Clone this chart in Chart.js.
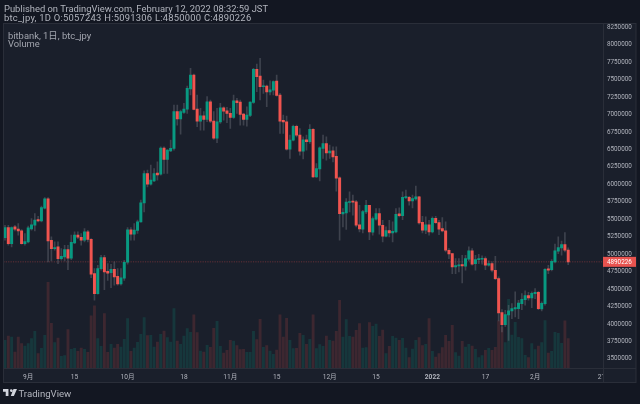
<!DOCTYPE html>
<html>
<head>
<meta charset="utf-8">
<script src="https://cdn.jsdelivr.net/npm/chart.js@4"></script>
<style>
  html, body { margin: 0; padding: 0; background: #131722; }
  #wrap { position: relative; width: 640px; height: 404px; overflow: hidden; font-family: Roboto, "Noto Sans CJK JP", sans-serif; color: #b2b5be; }
  canvas { position: absolute; left: 0; top: 0; }
  .txt { position: absolute; white-space: nowrap; }
  .head { left: 4px; font-size: 9.4px; color: #b2b5be; }
  .leg { left: 8px; font-size: 9.4px; color: #a3a6af; }
  #logo { position: absolute; left: 3px; top: 389px; width: 14px; height: 7px; }
  .brand { left: 18.5px; top: 388px; font-size: 9.6px; color: #b2b5be; }
</style>
</head>
<body>
<div id="wrap">
  <canvas id="chart" width="640" height="404"></canvas>
  <div class="txt head" style="top:3px">Published on TradingView.com, February 12, 2022 08:32:59 JST</div>
  <div class="txt head" style="top:12px;letter-spacing:0.25px">btc_jpy, 1D O:5057243 H:5091306 L:4850000 C:4890226</div>
  <div class="txt leg" style="top:28px">bitbank, 1日, btc_jpy</div>
  <div class="txt leg" style="top:38px">Volume</div>
  <svg id="logo" viewBox="0 0 36 18"><path fill="#d1d4dc" d="M14 18H7V7H0V0h14v18zm14 0h-8L27 0h9l-8 18zM18 4a3.5 3.5 0 1 0 0 -.01z"/></svg>
  <div class="txt brand">TradingView</div>
</div>
<script>
  // open, high, low, close (thousand yen), volume (relative)
  const rows = [
    [5238,5415,5200,5382,83],[5382,5415,5128,5152,96],[5152,5391,5104,5382,93],[5391,5415,5334,5358,48],[5358,5439,5272,5334,93],
    [5334,5353,5143,5152,73],[5152,5296,5128,5181,66],[5176,5401,5162,5377,73],[5363,5511,5343,5420,88],[5415,5582,5334,5487,110],
    [5496,5544,5463,5477,43],[5477,5688,5463,5668,59],[5659,5812,5649,5793,98],[5793,5812,4889,5190,257],[5200,5248,4904,5080,134],
    [5080,5176,5057,5095,76],[5104,5176,4865,4937,90],[4937,5080,4913,4971,35],[4961,5128,4904,5066,37],[5066,5128,4779,4942,115],
    [4942,5272,4923,5171,56],[5162,5319,5152,5272,59],[5272,5319,5224,5243,50],[5243,5296,5128,5200,60],[5200,5367,5176,5319,56],
    [5319,5343,5176,5210,47],[5214,5224,4665,4712,156],[4722,4794,4340,4435,186],[4435,4841,4426,4794,88],[4794,4985,4770,4951,65],
    [4951,4985,4493,4746,163],[4756,4865,4626,4727,47],[4736,4856,4521,4784,71],[4784,4889,4555,4674,60],[4684,4794,4555,4574,71],
    [4574,4794,4555,4660,63],[4655,4913,4626,4885,86],[4885,5382,4856,5348,148],[5348,5382,5200,5286,50],[5286,5439,5200,5344,60],
    [5339,5487,5296,5463,77],[5463,5774,5458,5736,101],[5736,6194,5606,6156,151],[6156,6204,5965,6003,97],[6003,6276,5989,6061,98],
    [6051,6228,6037,6156,63],[6161,6323,6061,6137,78],[6147,6539,6132,6519,101],[6519,6539,6156,6357,111],[6357,6500,6156,6491,91],
    [6481,6634,6467,6515,78],[6515,7136,6491,7041,178],[7041,7136,6849,6936,81],[6936,7065,6720,7041,71],[7031,7160,7017,7079,96],
    [7079,7409,7017,7375,118],[7366,7662,7280,7566,107],[7566,7581,7065,7074,159],[7079,7280,6826,6907,106],[6907,7088,6778,6983,51],
    [6983,7041,6778,6931,48],[6931,7256,6897,7184,68],[7184,7208,6883,6907,62],[6907,7041,6644,6663,119],[6663,7088,6596,6897,140],
    [6893,7160,6873,7098,65],[7098,7112,6921,7050,45],[7055,7103,6883,7017,53],[7017,7088,6802,6959,83],[6959,7280,6945,7198,81],
    [7198,7232,7017,7170,67],[7179,7208,6849,7002,55],[7007,7017,6849,6931,56],[6931,7112,6835,6993,47],[6988,7184,6969,7179,47],
    [7174,7662,7160,7648,110],[7648,7724,7327,7543,85],[7552,7805,7208,7399,146],[7399,7495,7304,7409,62],[7409,7423,7112,7323,67],
    [7323,7485,7280,7356,51],[7351,7485,7280,7471,41],[7480,7566,7265,7275,54],[7280,7304,6730,6907,159],[6917,6993,6730,6893,93],
    [6897,6979,6491,6505,149],[6505,6705,6371,6634,83],[6634,6849,6624,6830,58],[6830,6849,6681,6705,59],[6705,6801,6418,6476,104],
    [6476,6681,6366,6638,98],[6638,6705,6490,6610,71],[6610,6858,6586,6787,86],[6787,6801,6098,6108,159],[6108,6299,6098,6227,58],
    [6222,6538,6050,6524,70],[6514,6705,6371,6586,65],[6586,6681,6347,6452,96],[6452,6562,6371,6476,83],[6481,6538,6323,6395,81],
    [6400,6538,5902,6089,110],[6094,6108,5200,5582,203],[5577,5654,5391,5601,93],[5592,5797,5353,5745,145],[5740,5893,5606,5750,95],
    [5750,5845,5558,5745,93],[5750,5773,5391,5415,113],[5420,5701,5319,5362,133],[5358,5630,5305,5611,60],[5606,5773,5582,5701,61],
    [5701,5701,5209,5319,136],[5315,5534,5271,5510,125],[5501,5654,5486,5582,132],[5582,5654,5286,5415,95],[5415,5486,5176,5257,114],
    [5257,5391,5247,5338,43],[5338,5486,5247,5305,65],[5305,5462,5176,5329,95],[5319,5654,5305,5572,90],[5577,5663,5534,5553,83],
    [5553,5893,5496,5816,89],[5811,5917,5797,5821,60],[5816,5830,5701,5764,31],[5764,5845,5663,5797,57],[5792,5974,5773,5821,83],
    [5821,5830,5429,5448,91],[5458,5544,5305,5343,67],[5343,5534,5295,5419,71],[5419,5486,5271,5319,148],[5319,5534,5305,5515,50],
    [5515,5544,5439,5453,33],[5453,5486,5281,5357,43],[5367,5525,5319,5334,61],[5334,5463,5033,5057,98],[5057,5080,4937,5004,80],
    [5009,5009,4722,4818,128],[4818,4937,4722,4837,46],[4832,4937,4746,4846,36],[4851,4985,4588,4832,80],[4827,4985,4770,4937,63],
    [4928,5104,4904,5047,71],[5047,5080,4841,4856,66],[4865,4985,4770,4923,56],[4923,4999,4865,4937,31],[4928,4976,4856,4942,37],
    [4937,4961,4779,4841,53],[4841,4904,4827,4865,59],[4865,4889,4746,4770,53],[4770,4971,4636,4650,62],[4650,4674,4043,4158,141],
    [4163,4206,3885,3991,123],[3991,4196,3967,4134,76],[4129,4268,3766,4187,206],[4187,4292,4077,4220,99],[4215,4459,4101,4234,137],
    [4220,4340,4077,4301,92],[4292,4435,4206,4354,88],[4349,4474,4268,4407,38],[4407,4454,4340,4373,31],[4373,4459,4235,4440,73],
    [4435,4507,4364,4454,55],[4454,4469,4206,4220,66],[4215,4316,4187,4297,76],[4292,4794,4268,4784,142],[4789,4841,4722,4770,45],
    [4779,4923,4760,4899,50],[4889,5143,4875,5047,107],[5042,5248,5009,5095,104],[5090,5186,4985,5138,74],[5138,5310,5033,5057,141],
    [5057.243,5091.306,4850,4890.226,88]
  ];

  const lastPrice = 4890226;
  const up = '#089981', down = '#f0544f';

  // one slot per day, the axis runs on past the last candle up to 21 Feb
  const labels = [];
  const tickText = {};
  for (let i = 0; i < 181; i++) {
    const d = new Date(2021, 7, 25 + i);
    labels.push((d.getMonth() + 1) + '/' + d.getDate());
  }
  [['9/1', '9月'], ['9/15', '15'], ['10/1', '10月'], ['10/18', '18'], ['11/1', '11月'], ['11/15', '15'],
   ['12/1', '12月'], ['12/15', '15'], ['1/1', '2022'], ['1/17', '17'], ['2/1', '2月'], ['2/21', '21']].forEach(function (t) {
    tickText[labels.indexOf(t[0])] = t[1];
  });

  const isUp = rows.map(r => r[3] >= r[0]);

  const frame = {
    id: 'frame',
    beforeDraw(chart) {
      const c = chart.ctx, a = chart.chartArea;
      c.save();
      c.fillStyle = '#131722';
      c.fillRect(0, 0, 640, 404);
      c.fillStyle = '#1a1f2b';
      c.fillRect(3, a.top, 633, 383 - a.top);
      c.restore();
    },
    beforeDatasetsDraw(chart) {
      const c = chart.ctx, a = chart.chartArea;
      const y = chart.scales.y.getPixelForValue(lastPrice);
      c.save();
      c.strokeStyle = 'rgba(240,84,79,0.5)';
      c.lineWidth = 0.7;
      c.setLineDash([1.2, 1.2]);
      c.beginPath();
      c.moveTo(a.left, y);
      c.lineTo(a.right, y);
      c.stroke();
      c.restore();
    },
    afterDraw(chart) {
      const c = chart.ctx, a = chart.chartArea;
      const y = chart.scales.y.getPixelForValue(lastPrice);
      c.save();
      // time labels are cut at the price axis
      c.fillStyle = '#1a1f2b';
      c.fillRect(a.right, a.bottom, 33, 383 - a.bottom);
      c.strokeStyle = '#2a2e39';
      c.lineWidth = 1;
      c.strokeRect(3.5, a.top + 0.5, 632.5, 383 - a.top - 1);
      c.beginPath();
      c.moveTo(a.right + 0.5, a.top);
      c.lineTo(a.right + 0.5, 383);
      c.moveTo(3, a.bottom + 0.5);
      c.lineTo(636, a.bottom + 0.5);
      c.stroke();
      c.fillStyle = '#e8534f';
      c.fillRect(a.right, y - 5, 33, 10);
      c.fillStyle = '#ffffff';
      c.font = '6.3px Roboto';
      c.textBaseline = 'middle';
      c.fillText(String(lastPrice), a.right + 4, y + 0.3);
      c.restore();
    }
  };

  new Chart(document.getElementById('chart').getContext('2d'), {
    data: {
      labels: labels,
      datasets: [
        {
          type: 'bar', label: 'Volume', yAxisID: 'v', order: 3, grouped: false, barThickness: 2.2,
          data: rows.map(r => r[4]),
          backgroundColor: isUp.map(u => u ? 'rgba(8,153,129,0.2)' : 'rgba(240,84,79,0.17)')
        },
        {
          type: 'bar', label: 'Wick', yAxisID: 'y', order: 2, grouped: false, barThickness: 1,
          data: rows.map(r => [r[2] * 1000, r[1] * 1000]),
          backgroundColor: 'rgba(120,123,134,0.38)'
        },
        {
          type: 'bar', label: 'btc_jpy', yAxisID: 'y', order: 1, grouped: false, barThickness: 2.3, minBarLength: 1,
          data: rows.map(r => [r[0] * 1000, r[3] * 1000]),
          backgroundColor: isUp.map(u => u ? up : down)
        }
      ]
    },
    options: {
      responsive: false,
      animation: false,
      layout: { padding: { left: 3, top: 23, right: 4, bottom: 21 } },
      plugins: { legend: { display: false }, tooltip: { enabled: false } },
      scales: {
        x: {
          offset: true,
          grid: { display: false, drawTicks: false },
          border: { display: false },
          afterFit(scale) { scale.height = 15; },
          ticks: {
            autoSkip: false, maxRotation: 0, minRotation: 0, padding: 5,
            font: ctx => ({ family: 'Roboto, "Noto Sans CJK JP"', size: 6.6, weight: tickText[ctx.index] === '2022' ? 'bold' : 'normal' }),
            color: '#b2b5be',
            callback: (v, i) => tickText[i] || ''
          }
        },
        y: {
          position: 'right',
          min: 3369700,
          max: 8311600,
          grid: { display: false, drawTicks: false },
          border: { display: false },
          afterFit(scale) { scale.width = 33; },
          afterBuildTicks(scale) {
            const t = [];
            for (let p = 3500000; p <= 8250000; p += 250000) t.push({ value: p });
            scale.ticks = t;
          },
          ticks: { padding: 4, font: { family: 'Roboto', size: 6.3 }, color: '#b2b5be', callback: v => String(v) }
        },
        v: { display: false, min: 0, max: 1034 }
      }
    },
    plugins: [frame]
  });
</script>
</body>
</html>
